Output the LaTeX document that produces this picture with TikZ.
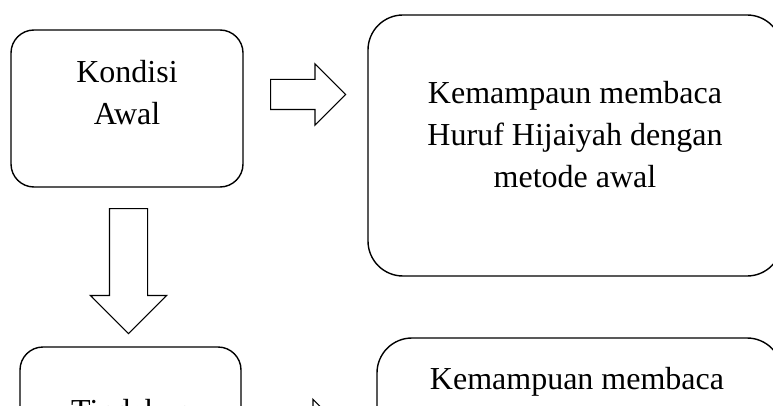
\documentclass[tikz,border=0pt]{standalone}
\usepackage{fontspec}
\setmainfont{Liberation Serif}
\usetikzlibrary{shapes.arrows}

\begin{document}
\begin{tikzpicture}[x=1pt, y=-1pt,
    caja/.style={draw, line width=1.4pt, rounded corners=23pt, inner sep=0pt},
    texto/.style={align=center, inner sep=0pt, font=\fontsize{32}{42}\selectfont},
    flecha/.style={draw, line width=1.2pt, shape=single arrow, single arrow tip angle=90}]
    \useasboundingbox (0,0) rectangle (773,406);
    \clip (0,0) rectangle (773,406);

    % Cajas
    \node[caja, minimum width=232pt, minimum height=157pt] (kondisi) at (127,108.5) {};
    \node[caja, rounded corners=35pt, minimum width=414pt, minimum height=261pt] (awal) at (575,145.5) {};
    \node[caja, minimum width=221pt, minimum height=160pt] (tindakan) at (130.5,427) {};
    \node[caja, rounded corners=35pt, minimum width=405pt, minimum height=261pt] (akhir) at (579.5,468.5) {};

    % Textos
    \node[texto, anchor=north] (tkondisi) at (127,60) {Kondisi\\Awal};
    \node[texto, anchor=north] (tawal) at (575,81) {Kemampaun membaca\\Huruf Hijaiyah dengan\\metode awal};
    \node[texto, anchor=north] (ttindakan) at (131,399) {Tindakan};
    \node[texto, anchor=north] (takhir) at (577,367) {Kemampuan membaca};

    % Flechas
    \node[flecha, inner sep=14.5pt, single arrow head extend=15.5pt, minimum height=75pt, anchor=tail] (f1) at (270,94.5) {};
    \node[flecha, inner sep=18.5pt, single arrow head extend=19pt, minimum height=125pt, shape border rotate=270, anchor=tail] (f2) at (128.5,208) {};
    \node[flecha, inner sep=14.5pt, single arrow head extend=15.5pt, minimum height=75pt, anchor=tail] (f3) at (268,430) {};

\end{tikzpicture}
\end{document}
